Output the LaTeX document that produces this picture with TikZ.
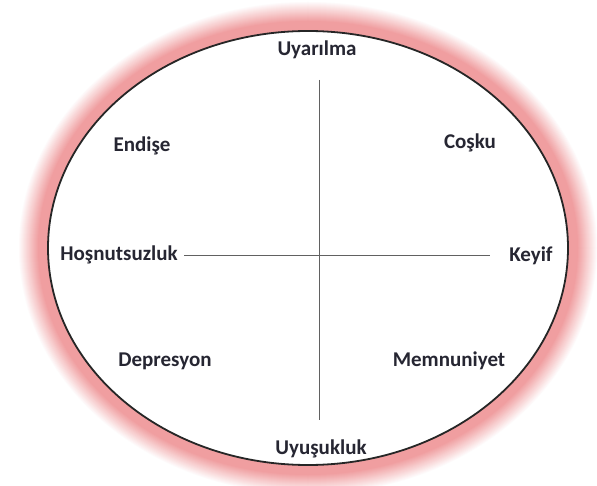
\documentclass[tikz,border=0pt]{standalone}
\usepackage{fontspec}
\setmainfont{Carlito}
\definecolor{glow}{RGB}{240,158,160}
\definecolor{txt}{RGB}{38,38,50}
\begin{document}
\begin{tikzpicture}[x=1pt,y=-1pt,
  lbl/.style={font=\bfseries\fontsize{21}{24}\selectfont, text=txt, inner sep=1pt},
  axis/.style={draw=black!62, line width=1.7pt}]
\useasboundingbox (0,0) rectangle (597,486);
\fill[white] (0,0) rectangle (597,486);
\foreach \i in {30,29,...,0}{
  \pgfmathsetmacro{\p}{min(100,max(0,100*(30-\i)/20))}
  \fill[glow!\p!white] (308,248) ellipse ({260+\i} and {217+\i});
}
\draw[fill=white, draw=black!85, line width=1.8pt] (308,248) ellipse (260 and 217);
\node[lbl] (up) at (317,50) {Uyarılma};
\node[lbl] (down) at (321,449) {Uyuşukluk};
\node[lbl] (left) at (119,255) {Hoşnutsuzluk};
\node[lbl] (right) at (531,256) {Keyif};
\node[lbl] (tl) at (142,146) {Endişe};
\node[lbl] (tr) at (470,143) {Coşku};
\node[lbl] (bl) at (165,361) {Depresyon};
\node[lbl] (br) at (449,361) {Memnuniyet};
\coordinate (vt) at (319.5,80);
\coordinate (vb) at (319.5,420);
\coordinate (hl) at (184,255.5);
\coordinate (hr) at (490,255.5);
\draw[axis] (vt) -- (vb);
\draw[axis] (hl) -- (hr);
\end{tikzpicture}
\end{document}
